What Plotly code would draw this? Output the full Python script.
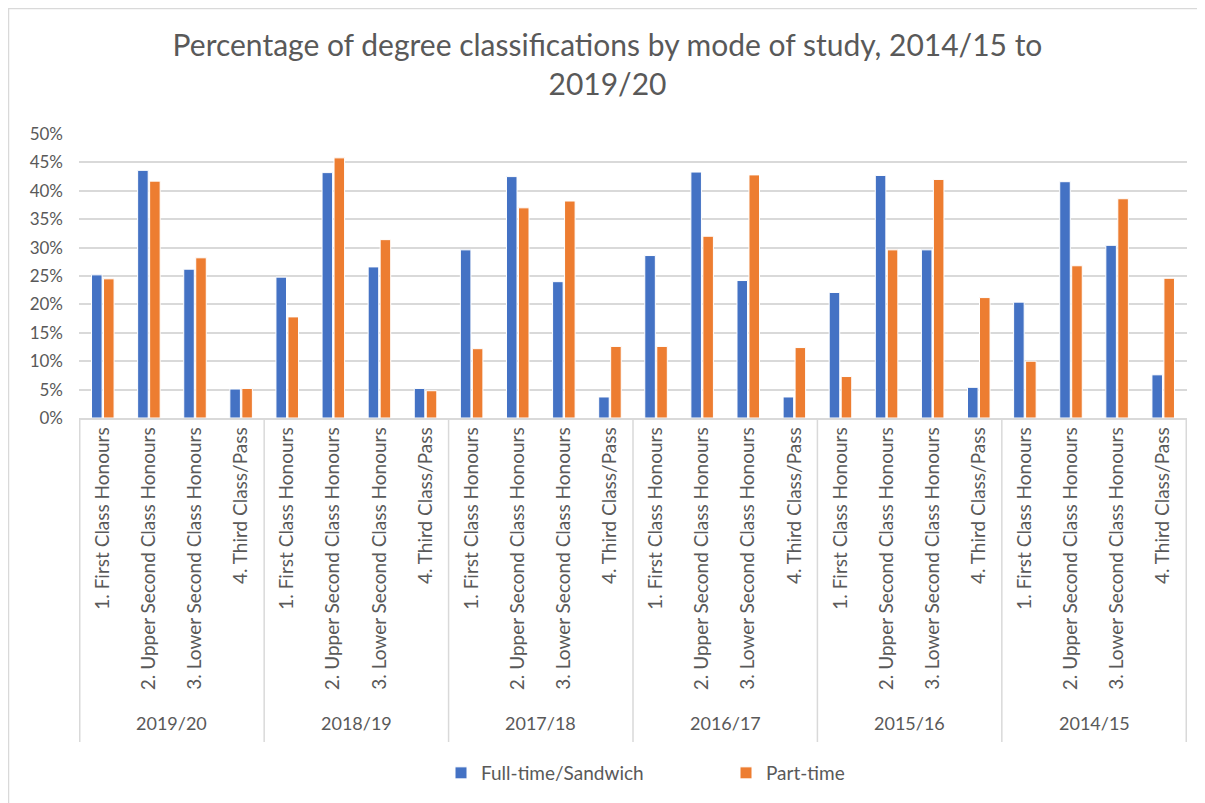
import plotly.graph_objects as go

years = ["2019/20", "2018/19", "2017/18", "2016/17", "2015/16", "2014/15"]
classes = ["1. First Class Honours", "2. Upper Second Class Honours",
           "3. Lower Second Class Honours", "4. Third Class/Pass"]

full_time = [25.2, 43.6, 26.2, 5.1,
             24.8, 43.2, 26.6, 5.2,
             29.6, 42.5, 24.0, 3.7,
             28.6, 43.3, 24.2, 3.7,
             22.1, 42.7, 29.6, 5.4,
             20.4, 41.6, 30.4, 7.6]
part_time = [24.5, 41.7, 28.2, 5.2,
             17.8, 45.8, 31.4, 4.8,
             12.2, 37.0, 38.2, 12.6,
             12.6, 32.0, 42.8, 12.4,
             7.3, 29.6, 42.0, 21.2,
             10.0, 26.8, 38.6, 24.6]

keys = [f"{y}|{c}" for y in years for c in classes]
inner = [c for _ in years for c in classes]

FONT = "Lato, 'Open Sans', sans-serif"
GREY = "#595959"
LINE = "#D9D9D9"

W, H = 1205, 803
ML, MR, MT, MB = 71, 26, 126, 393
PW, PH = W - ML - MR, H - MT - MB

fig = go.Figure()
fig.add_trace(go.Bar(x=keys, y=[v / 100 for v in full_time],
                     name="Full-time/Sandwich", marker_color="#4472C4",
                     marker_line=dict(color="white", width=1)))
fig.add_trace(go.Bar(x=keys, y=[v / 100 for v in part_time],
                     name="Part-time", marker_color="#ED7D31",
                     marker_line=dict(color="white", width=1)))

n = len(classes)
annotations = []
shapes = []
for i, yr in enumerate(years):
    annotations.append(dict(x=i * n + (n - 1) / 2, y=-305 / PH, xref="x", yref="paper",
                            text=yr, showarrow=False, xanchor="center", yanchor="middle",
                            font=dict(size=18, color=GREY, family=FONT)))
for i in range(len(years) + 1):
    shapes.append(dict(type="line", xref="x", yref="paper",
                       x0=i * n - 0.5, x1=i * n - 0.5, y0=0, y1=-324 / PH,
                       line=dict(color=LINE, width=1.5)))
# chart border (outer frame)
shapes.append(dict(type="rect", xref="paper", yref="paper",
                   x0=-(ML - 0.5) / PW, x1=(W - ML + 5) / PW,
                   y0=-(MB + 5) / PH, y1=1 + (MT - 0.5) / PH,
                   line=dict(color=LINE, width=1.5), layer="below"))

fig.update_layout(
    width=W, height=H,
    paper_bgcolor="white", plot_bgcolor="white",
    margin=dict(l=ML, r=MR, t=MT, b=MB),
    font=dict(family=FONT, color=GREY, size=17),
    title=dict(text="Percentage of degree classifications by mode of study, 2014/15 to<br>2019/20",
               x=0.4975, xanchor="center", y=0.94, yanchor="top",
               font=dict(size=30, color=GREY, family=FONT)),
    barmode="group", bargap=0.48, bargroupgap=0.12,
    showlegend=True,
    legend=dict(orientation="h", x=(441 - 79) / PW, xanchor="left", y=-355 / PH, yanchor="middle",
                font=dict(size=19, color=GREY), itemwidth=30, traceorder="normal",
                entrywidth=240),
    yaxis=dict(range=[0, 0.5], dtick=0.05, tickformat=".0%", showgrid=True,
               gridcolor=LINE, gridwidth=1.5, zeroline=False,
               showline=False, ticks="", tickfont=dict(size=17, color=GREY),
               ticklabelstandoff=15, automargin=False),
    xaxis=dict(type="category", tickmode="array", tickvals=keys, ticktext=inner,
               tickangle=-90, showline=True, linecolor=LINE, linewidth=1.5,
               ticks="", showgrid=False, ticklabelstandoff=0,
               tickfont=dict(size=19, color=GREY), automargin=False),
    annotations=annotations,
    shapes=shapes,
)

fig.write_html("out.html")
